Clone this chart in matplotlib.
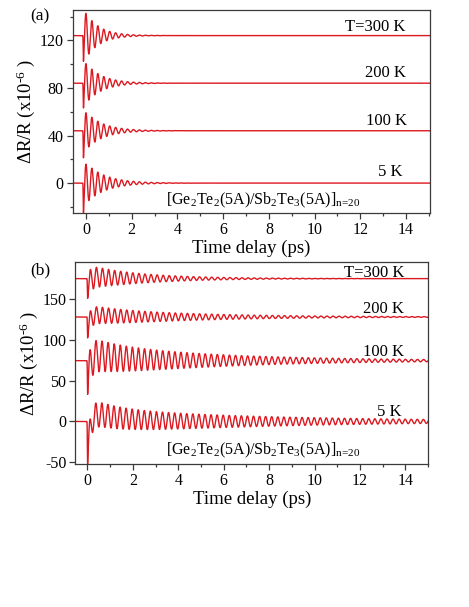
import numpy as np
import matplotlib
matplotlib.use("Agg")
import matplotlib.pyplot as plt
from matplotlib.ticker import MultipleLocator

plt.rcParams['font.family'] = ['Liberation Serif', 'DejaVu Serif']
plt.rcParams['mathtext.fontset'] = 'custom'
plt.rcParams['mathtext.rm'] = 'Liberation Serif'
plt.rcParams['mathtext.it'] = 'Liberation Serif:italic'
plt.rcParams['axes.unicode_minus'] = False

# ---------------- data ----------------
labels = ['T=300 K', '200 K', '100 K', '5 K']
sample_label = r'[Ge$_2$Te$_2$(5A)/Sb$_2$Te$_3$(5A)]$_{\mathrm{n\!=\!20}}$'
xticks = [0, 2, 4, 6, 8, 10, 12, 14]

# panel (a): per-curve fitted parameters of the damped coherent phonon
offsets_a = [124, 84, 44, 0]          # vertical offsets (x10^-6)
osc_amp_a = [19, 17, 16, 17]          # oscillation amplitude
osc_tau_a = [0.62, 0.70, 0.75, 0.85]  # damping time (ps)
spike_a = [4, 6, 10, 12]              # fast electronic dip
onset_a = -0.12                        # onset of signal (ps)
period_a = 0.26                        # oscillation period (ps)
peak_a = 0.0                           # time of a maximum (ps)
yticks_a = [0, 40, 80, 120]
label_y_a = [127.8, 88.9, 48.8, 5.9]
label_x_a = [13.96, 14.0, 14.05, 13.85]

# panel (b)
offsets_b = [175, 128, 74.5, 0]
osc_amp_b = [14.5, 11.5, 21, 16]
osc_tau_b = [2.6, 4.5, 5.5, 8.0]
spike_b = [16, 22, 41, 66]
bg_amp_b = [3, 4, 9, 14]
bg_tau_b = [1.0, 1.0, 1.3, 1.2]
peak_b = [0.40, 0.40, 0.38, 0.37]
onset_b = 0.0
period_b = 0.267
yticks_b = [-50, 0, 50, 100, 150]
label_y_b = [177.4, 133.3, 80.1, 6.9]
label_x_b = [13.96, 13.92, 13.96, 13.82]

RED = '#dc1820'
SPINE = '#3a3a3a'


def ramp(t, t0):
    return 0.5 * (1 + np.tanh((t - t0) / 0.008))


def curve_a(t, i):
    dt = np.clip(t - onset_a, 0, None)
    osc = osc_amp_a[i] * np.exp(-t / osc_tau_a[i]) * np.cos(2 * np.pi * (t - peak_a) / period_a)
    el = -spike_a[i] * np.exp(-dt / 0.05)
    return offsets_a[i] + ramp(t, onset_a) * (osc + el)


def curve_b(t, i):
    dt = np.clip(t - onset_b, 0, None)
    osc = osc_amp_b[i] * np.exp(-t / osc_tau_b[i]) * np.cos(2 * np.pi * (t - peak_b[i]) / period_b)
    el = -spike_b[i] * np.exp(-dt / 0.12) + bg_amp_b[i] * np.exp(-dt / bg_tau_b[i])
    return offsets_b[i] + ramp(t, onset_b) * (osc + el)


fig = plt.figure(figsize=(4.69, 6.07), dpi=100)
ax_a = fig.add_axes([0.155, 0.649, 0.762, 0.3345])
ax_b = fig.add_axes([0.1606, 0.2351, 0.7524, 0.3328])

t = np.linspace(-0.7, 15.2, 8000)


def style(ax):
    for s in ax.spines.values():
        s.set_color(SPINE)
        s.set_linewidth(0.9)
    ax.tick_params(which='both', direction='out', top=False, right=False,
                   color=SPINE, labelsize=11.5, pad=2)
    ax.tick_params(which='major', length=4.5, width=0.9)
    ax.tick_params(which='minor', length=2.5, width=0.9)
    ax.set_xticks(xticks)
    ax.xaxis.set_minor_locator(MultipleLocator(1))
    ax.set_xlabel('Time delay (ps)', fontsize=13.5, labelpad=1)
    ax.set_ylabel(r'$\Delta$R/R (x10$^{\text{-6}}$ )', fontsize=13.5, labelpad=2)


for i in range(4):
    ax_a.plot(t, curve_a(t, i), color=RED, lw=1.0)
    ax_a.text(label_x_a[i], label_y_a[i], labels[i], ha='right', va='baseline', fontsize=12)
ax_a.set_xlim(-0.58, 15.05)
ax_a.set_ylim(-25.2, 145.5)
ax_a.set_yticks(yticks_a)
ax_a.yaxis.set_minor_locator(MultipleLocator(20))
style(ax_a)
ax_a.text(3.49, -17.7, sample_label, ha='left', va='baseline', fontsize=11.5)

for i in range(4):
    ax_b.plot(t, curve_b(t, i), color=RED, lw=1.0)
    ax_b.text(label_x_b[i], label_y_b[i], labels[i], ha='right', va='baseline', fontsize=12)
ax_b.set_xlim(-0.53, 15.0)
ax_b.set_ylim(-52.5, 195)
ax_b.set_yticks(yticks_b)
style(ax_b)
ax_b.text(3.45, -40.1, sample_label, ha='left', va='baseline', fontsize=11.5)

fig.text(40 / 469, 1 - 16 / 607, '(a)', ha='center', va='center', fontsize=12.5)
fig.text(40 / 469, 1 - 270 / 607, '(b)', ha='center', va='center', fontsize=12.5)

fig.savefig('out.png', dpi=100)
